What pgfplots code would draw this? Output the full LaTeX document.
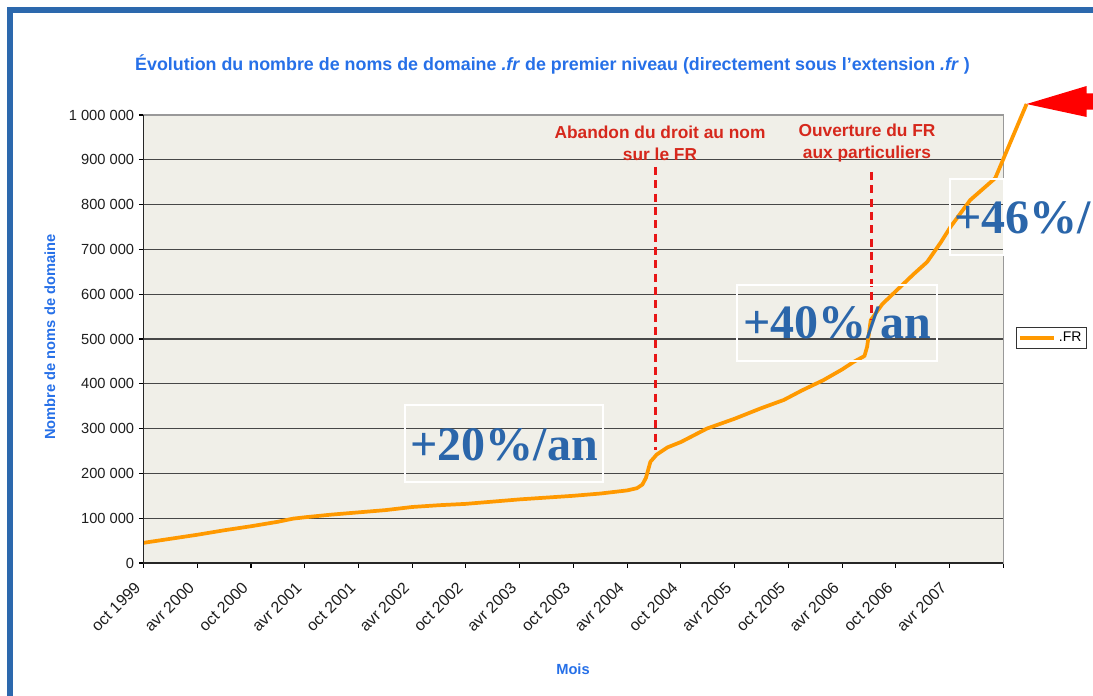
\documentclass[border=0pt]{standalone}
\usepackage{pgfplots}
\pgfplotsset{compat=1.18}
\usepackage{pgfplotstable}
\usepackage{fontspec}
\setmainfont{Liberation Sans}
\newfontfamily\tnr{Liberation Serif}

\definecolor{frameblue}{RGB}{44,104,173}
\definecolor{titleblue}{RGB}{38,112,232}
\definecolor{plotbg}{RGB}{240,239,232}
\definecolor{lineor}{RGB}{255,153,0}
\definecolor{annred}{RGB}{214,40,28}
\definecolor{dashred}{RGB}{232,22,22}
\definecolor{bigblue}{RGB}{43,102,170}
\definecolor{tickgray}{RGB}{30,30,30}

% mois depuis oct 1999, nombre de noms de domaine
\pgfplotstableread{
mois nb
0 45000
3 54000
6 63000
9 73000
12 82000
15 92000
16.7 99000
18 102000
21 108000
24 113000
27 118000
30 125000
33 129000
36 132000
39 137000
42 142000
45 146000
48 150000
51 155000
54 162000
55.1 167000
55.7 175000
56.1 190000
56.6 226000
57.3 242000
58.5 258000
60 270000
62.9 300000
66 322000
68.9 345000
71.5 364000
73.5 385000
75.9 408000
78 432000
79.3 449000
80.5 462000
80.8 483000
81.2 542000
82.5 578000
84.9 624000
86.0 645000
87.5 672000
89 715000
90.1 750000
92.3 810000
95.1 859000
98.6 1024500
}\frdata

\begin{document}
\begin{tikzpicture}[x=0.75pt,y=0.75pt]
\useasboundingbox (0,0) rectangle (1093,696);
\fill[white] (0,0) rectangle (1093,696);
% cadre bleu
\draw[frameblue, line width=4.5pt] (10,0) -- (10,686) -- (1093,686);
\coordinate (axorig) at (143.5,133);

\begin{axis}[
    at={(axorig)}, anchor=south west,
    scale only axis, width=644.85pt, height=336pt,
    xmin=0, xmax=96, ymin=0, ymax=1000000,
    clip=false, scaled y ticks=false,
    axis background/.style={fill=plotbg},
    axis line style={draw=black!40, line width=0.8pt},
    xtick={0,6,...,96},
    xticklabels={oct 1999,avr 2000,oct 2000,avr 2001,oct 2001,avr 2002,oct 2002,avr 2003,oct 2003,avr 2004,oct 2004,avr 2005,oct 2005,avr 2006,oct 2006,avr 2007,{}},
    ytick={0,100000,200000,300000,400000,500000,600000,700000,800000,900000,1000000},
    yticklabels={0,100 000,200 000,300 000,400 000,500 000,600 000,700 000,800 000,900 000,1 000 000},
    tick align=outside, xtick pos=left, ytick pos=left,
    major tick length=3.5pt,
    tick style={black, line width=0.8pt},
    ymajorgrids, major grid style={draw=black!72, line width=0.9pt},
    xticklabel style={yshift=-10.5pt, xshift=-2pt, rotate=45, anchor=east, font=\fontsize{12}{14}\selectfont, text=tickgray},
    yticklabel style={font=\fontsize{11}{13}\selectfont, text=tickgray},
    legend style={at={(1.0144,0.502)}, anchor=west, draw=black!80, line width=0.6pt,
        font=\fontsize{10.5}{12}\selectfont, inner sep=1.5pt, fill=white},
    legend image code/.code={\draw[lineor, line width=2.6pt] (0pt,0pt) -- (26pt,0pt);},
]
\addplot[lineor, line width=2.8pt, line join=round] table[x=mois, y=nb] {\frdata};
\addlegendentry{.FR}
\draw[black!85, line width=1pt] (axis cs:0,1000000) -- (axis cs:0,0) -- (axis cs:96,0);
\draw[dashred, line width=2.3pt, dash pattern=on 6pt off 4pt] (axis cs:57.15,884000) -- (axis cs:57.15,252000);
\draw[dashred, line width=2.3pt, dash pattern=on 6pt off 4pt] (axis cs:81.25,873000) -- (axis cs:81.25,542000);
% fleche rouge
\fill[red] (axis cs:98.6,1024500) -- ++(45pt,13.5pt) -- ++(0,-5.5pt) -- ++(5.3pt,0) -- ++(0,-12.2pt) -- ++(-5.3pt,0) -- ++(0,-5.5pt) -- cycle;
\end{axis}

% titre et axes
\node[font=\fontsize{13.4}{15}\selectfont\bfseries, text=titleblue] at (552.5,632)
  {Évolution du nombre de noms de domaine \textit{.fr} de premier niveau (directement sous l'extension \textit{.fr} )};
\node[font=\fontsize{11}{13}\selectfont\bfseries, text=titleblue, rotate=90] at (50,359) {Nombre de noms de domaine};
\node[font=\fontsize{11}{13}\selectfont\bfseries, text=titleblue] at (573,27) {Mois};

% annotations
\node[font=\fontsize{13}{16.5}\selectfont\bfseries, text=annred, align=center] at (660,553)
  {Abandon du droit au nom\\sur le FR};
\node[font=\fontsize{13}{16.5}\selectfont\bfseries, text=annred, align=center] at (867,553)
  {Ouverture du FR\\aux particuliers};

% taux de croissance
\draw[white, line width=1.5pt] (405,291) rectangle (603,214);
\node[font=\tnr\fontsize{36}{40}\selectfont\bfseries, text=bigblue] at (504,251) {+20\%/an};
\draw[white, line width=1.5pt] (737,411) rectangle (937,335);
\node[font=\tnr\fontsize{36}{40}\selectfont\bfseries, text=bigblue] at (837,373) {+40\%/an};
\draw[white, line width=1.5pt] (950,517) rectangle (1004,441);
\node[font=\tnr\fontsize{36}{40}\selectfont\bfseries, text=bigblue, anchor=west, inner sep=0pt] at (954,478) {+46\%/};
\end{tikzpicture}
\end{document}
